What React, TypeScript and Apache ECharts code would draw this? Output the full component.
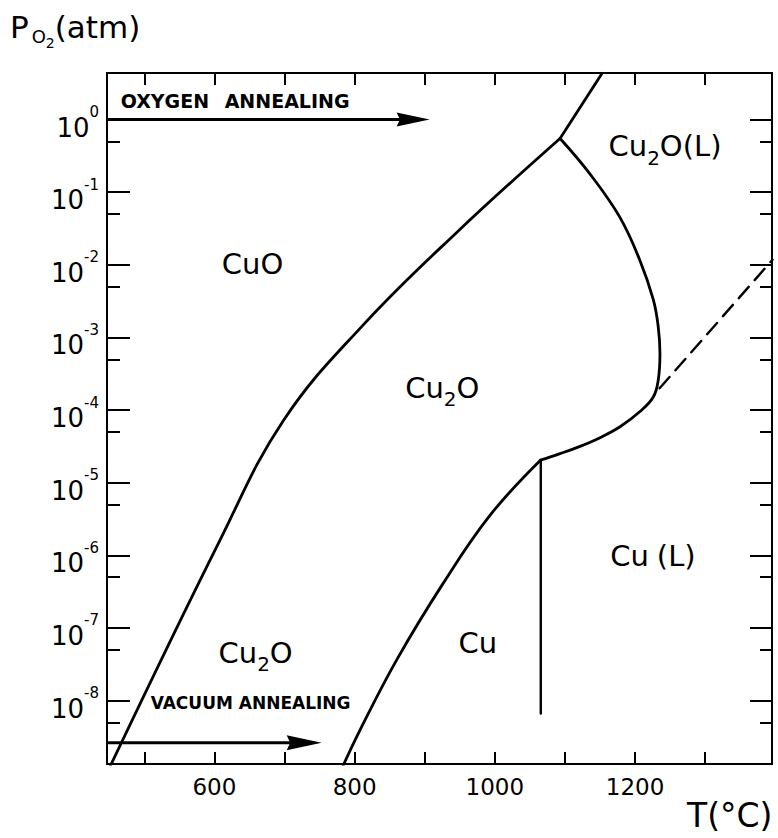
import React, { useEffect, useRef } from 'react';
import * as echarts from 'echarts';

const FONT = 'DejaVu Sans';

// Axis extents (T in °C, log10 of P_O2 in atm)
const tMin = 446.8;
const tMax = 1395.3;
const logPMin = -8.874;
const logPMax = 0.642;

// Tick values
const xTickValues = [500, 600, 700, 800, 900, 1000, 1100, 1200, 1300];
const xTickLabels = [600, 800, 1000, 1200];
const yMajorExponents = [0, -1, -2, -3, -4, -5, -6, -7, -8];
const yMinorPressures = [0.5, 0.05, 5e-3, 5e-4, 5e-5, 5e-6, 5e-7, 5e-8, 5e-9];

// Phase boundaries: [T (°C), log10 P_O2 (atm)]
const cuoCu2oBoundary = [
  [451.6, -8.9], [608, -5.79], [698, -4.15], [812, -2.83], [946, -1.55],
  [1093, -0.26],
];
const cuoLiquidBoundary = [
  [1093, -0.26], [1153, 0.64],
];
const cu2oLiquidBoundary = [
  [1093, -0.26], [1135, -0.74], [1178, -1.34], [1206.5, -1.93], [1226, -2.48],
  [1233, -2.85], [1235.5, -3.22], [1233, -3.59], [1226, -3.82], [1207, -4.02],
  [1178.5, -4.23], [1150, -4.38], [1121.5, -4.5], [1093, -4.6], [1065, -4.69],
];
const cuCu2oBoundary = [
  [1065, -4.69], [993, -5.45], [926, -6.39], [860, -7.44], [807.5, -8.41],
  [783.4, -8.9],
];
const cuMeltingLine = [
  [1065.5, -4.69], [1065.5, -8.18],
];
const metastableExtension = [
  [1235, -3.7], [1396, -1.93],
];
// Annealing arrows: [T start, log10 P, T end]
const annealingArrows = [
  [446.8, 0, 907],
  [446.8, -8.58, 753],
];
const arrowHeads = [
  { len: 33, half: 7 },
  { len: 35, half: 7.5 },
];

const tickStyle = { color: '#000', width: 2 };

function lineSeries(data: number[][], width: number, dashed?: number[]) {
  return {
    type: 'line',
    data,
    xAxisIndex: 0,
    yAxisIndex: 0,
    showSymbol: false,
    symbol: 'none',
    smooth: dashed ? false : 0.4,
    lineStyle: { color: '#000', width, type: dashed ? dashed : 'solid', cap: 'round', join: 'round' },
    z: 3,
    silent: true,
  };
}

const regionRich = {
  a: { fontSize: 29, fontFamily: FONT, fill: '#000', verticalAlign: 'top', lineHeight: 36 },
  s: { fontSize: 20, fontFamily: FONT, fill: '#000', verticalAlign: 'bottom' },
  p: { fontSize: 29, fontFamily: FONT, fill: '#000', verticalAlign: 'top', padding: [0, 0, 0, 8] },
};

function regionLabel(text: string, x: number, y: number) {
  return {
    type: 'text',
    x,
    y,
    silent: true,
    style: { text, rich: regionRich, align: 'left', verticalAlign: 'top', fill: '#000' },
  };
}

function xAxisDef(position: 'bottom' | 'top', withLabels: boolean) {
  return {
    type: 'value',
    position,
    min: tMin,
    max: tMax,
    splitLine: { show: false },
    axisLine: { show: false, onZero: false },
    axisTick: { show: true, inside: true, length: 12, customValues: xTickValues, lineStyle: tickStyle },
    axisLabel: withLabels
      ? {
          customValues: xTickLabels,
          color: '#000',
          fontFamily: FONT,
          fontSize: 23,
          margin: 11,
          formatter: (v: number) => String(v),
        }
      : { show: false },
  };
}

function yAxisDef(position: 'left' | 'right', ticks: number[], length: number, withLabels: boolean) {
  return {
    type: 'value',
    position,
    min: logPMin,
    max: logPMax,
    splitLine: { show: false },
    axisLine: { show: false, onZero: false },
    axisTick: { show: true, inside: true, length, customValues: ticks, lineStyle: tickStyle },
    axisLabel: withLabels
      ? {
          customValues: ticks,
          margin: 8,
          padding: [6, 0, 0, 0],
          formatter: (v: number) => `{b|10}{s|${v === 0 ? '0' : String(v)}}`,
          rich: {
            b: { fontSize: 26, fontFamily: FONT, color: '#000', verticalAlign: 'bottom', lineHeight: 36 },
            s: { fontSize: 15, fontFamily: FONT, color: '#000', verticalAlign: 'top' },
          },
        }
      : { show: false },
  };
}

const minorExponents = yMinorPressures.map(Math.log10);

const option: any = {
  animation: false,
  backgroundColor: '#fff',
  grid: {
    left: 107,
    right: 6,
    top: 73,
    bottom: 74,
    show: true,
    borderColor: '#000',
    borderWidth: 2,
  },
  xAxis: [xAxisDef('bottom', true), xAxisDef('top', false)],
  yAxis: [
    yAxisDef('left', yMajorExponents, 23, true),
    yAxisDef('left', minorExponents, 13, false),
    yAxisDef('right', yMajorExponents, 22, false),
    yAxisDef('right', minorExponents, 12, false),
  ],
  series: [
    lineSeries(cuoCu2oBoundary, 2.8),
    lineSeries(cuoLiquidBoundary, 2.8),
    lineSeries(cu2oLiquidBoundary, 2.8),
    lineSeries(cuCu2oBoundary, 2.8),
    lineSeries(cuMeltingLine, 2.4),
    lineSeries(metastableExtension, 2.4, [15, 9]),
    {
      type: 'custom',
      xAxisIndex: 0,
      yAxisIndex: 0,
      data: annealingArrows,
      encode: { x: [0, 2], y: 1 },
      clip: false,
      silent: true,
      z: 4,
      renderItem: (params: any, api: any) => {
        const y = api.value(1);
        const p0 = api.coord([api.value(0), y]);
        const p1 = api.coord([api.value(2), y]);
        const head = arrowHeads[params.dataIndex];
        return {
          type: 'group',
          children: [
            {
              type: 'line',
              shape: { x1: p0[0], y1: p0[1], x2: p1[0] - head.len + 4, y2: p1[1] },
              style: { stroke: '#000', lineWidth: 3 },
            },
            {
              type: 'polygon',
              shape: {
                points: [
                  [p1[0], p1[1]],
                  [p1[0] - head.len, p1[1] - head.half],
                  [p1[0] - head.len * 0.9, p1[1]],
                  [p1[0] - head.len, p1[1] + head.half],
                ],
              },
              style: { fill: '#000' },
            },
          ],
        };
      },
    },
  ],
  graphic: [
    {
      type: 'text',
      x: 10,
      y: 11.4,
      silent: true,
      style: {
        text: '{p|P}{o|O}{t|2}{p|(atm)}',
        align: 'left',
        verticalAlign: 'top',
        fill: '#000',
        rich: {
          p: { fontSize: 31, fontFamily: FONT, fill: '#000', verticalAlign: 'top', lineHeight: 40 },
          o: { fontSize: 18, fontFamily: FONT, fill: '#000', verticalAlign: 'top', padding: [16, 0, 0, 3] },
          t: { fontSize: 14, fontFamily: FONT, fill: '#000', verticalAlign: 'top', padding: [25, 0, 0, 0] },
        },
      },
    },
    {
      type: 'text',
      x: 687,
      y: 799.4,
      silent: true,
      style: { text: 'T(°C)', fontSize: 33, fontFamily: FONT, fill: '#000', align: 'left', verticalAlign: 'top' },
    },
    {
      type: 'text',
      x: 120.7,
      y: 91.1,
      silent: true,
      style: {
        text: '{w|OXYGEN }{v|ANNEALING}',
        align: 'left',
        verticalAlign: 'top',
        fill: '#000',
        rich: {
          w: { fontSize: 19, fontFamily: FONT, fontWeight: 'bold', fill: '#000' },
          v: { fontSize: 19, fontFamily: FONT, fontWeight: 'bold', fill: '#000', padding: [0, 0, 0, 9] },
        },
      },
    },
    {
      type: 'text',
      x: 150.7,
      y: 694.7,
      silent: true,
      style: {
        text: 'VACUUM ANNEALING',
        fontSize: 17,
        fontWeight: 'bold',
        fontFamily: FONT,
        fill: '#000',
        align: 'left',
        verticalAlign: 'top',
      },
    },
    regionLabel('{a|CuO}', 221.8, 249.9),
    regionLabel('{a|Cu}{s|2}{a|O}', 405.2, 373.3),
    regionLabel('{a|Cu}{s|2}{a|O}', 218.5, 638.3),
    regionLabel('{a|Cu}', 458.5, 628.3),
    regionLabel('{a|Cu}{p|(L)}', 610.2, 541.6),
    regionLabel('{a|Cu}{s|2}{a|O(L)}', 608.5, 131.6),
  ],
};

export default function App() {
  const ref = useRef<HTMLDivElement>(null);
  useEffect(() => {
    const chart = echarts.init(ref.current as HTMLDivElement, null, { renderer: 'svg' });
    chart.setOption(option);
    return () => {
      chart.dispose();
    };
  }, []);
  return (
    <div
      ref={ref}
      style={{ position: 'absolute', left: 0, top: 0, width: 778, height: 838, background: '#fff' }}
    />
  );
}
